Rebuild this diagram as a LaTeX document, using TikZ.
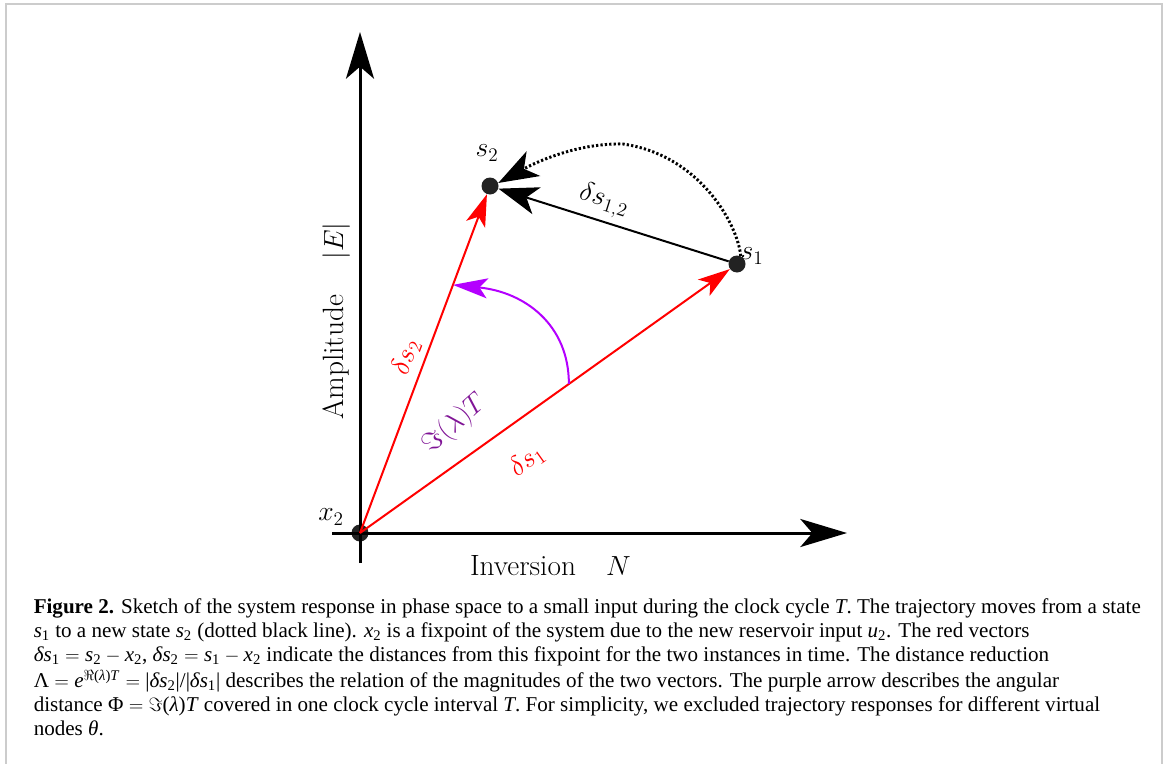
\documentclass[tikz,border=0pt]{standalone}
\usepackage{fontspec}
\newfontfamily\capfont{Liberation Serif}
\usetikzlibrary{arrows.meta,calc}
\definecolor{dotgray}{HTML}{222222}
\definecolor{arcviolet}{RGB}{180,0,255}
\definecolor{txtpurple}{RGB}{128,20,150}
\definecolor{framegray}{HTML}{CCCCCC}
\newcommand{\ci}[1]{\textit{#1}}
\newcommand{\csub}[1]{\textsubscript{#1}}
\begin{document}
\begin{tikzpicture}[x=0.75pt,y=-0.75pt,
  blackdot/.style={circle,fill=dotgray,inner sep=0pt,minimum size=12.75pt},
  axisarrow/.style={line width=2.25pt,-{Stealth[length=35pt,width=21pt,inset=9pt]}},
  redvec/.style={red,line width=1.5pt,-{Stealth[length=24pt,width=15pt,inset=6pt]}},
  blackvec/.style={black,line width=1.5pt,-{Stealth[length=30pt,width=21pt,inset=8pt]}},
  dotpath/.style={black,line width=2.2pt,dash pattern=on 1.7pt off 1.6pt,-{Stealth[length=30pt,width=21pt,inset=8pt]}},
  arcvec/.style={arcviolet,line width=1.5pt,-{Stealth[length=26pt,width=15pt,inset=6pt]}},
  lbl/.style={font=\fontsize{22}{26}\selectfont,inner sep=0pt},
  mlbl/.style={font=\fontsize{20.5}{24}\selectfont,inner sep=0pt},
  captxt/.style={font=\capfont\fontsize{15.8}{19}\selectfont,anchor=base west,inner sep=0pt},
]
\useasboundingbox (0,0) rectangle (1165,764);
\fill[white] (0,0) rectangle (1165,764);
\draw[framegray,line width=1.5pt] (5.5,764) -- (5.5,3.5) -- (1162,3.5) -- (1162,764);

% dots
\node[blackdot] (x2) at (360,533) {};
\node[blackdot] (s1) at (737,264) {};
\node[blackdot] (s2) at (490,186) {};

% axes
\coordinate (ybot) at (360,563);
\coordinate (ytop) at (360,32);
\coordinate (xleft) at (332,533);
\coordinate (xright) at (847,533);
\draw[axisarrow] (ybot) -- (ytop);
\draw[axisarrow] (xleft) -- (xright);

% red vectors
\draw[redvec] (x2.center) -- (s1);
\draw[redvec] (x2.center) -- (s2);

% black difference vector
\draw[blackvec] (s1) -- (s2);

% dotted trajectory
\draw[dotpath] (s1.65) .. controls (738,225) and (700,155) .. (623,144)
  .. controls (580,143) and (540,160) .. (s2.20);

% purple arc
\coordinate (pa) at ($(x2)!0.554!(s1)$);
\coordinate (pb) at ($(x2)!0.715!(s2)$);
\draw[arcvec] (pa) .. controls (569,325) and (525,292) .. (pb);

% labels
\node[mlbl] (lx2) at (331,517) {$x_2$};
\node[mlbl] (ls1) at (752,256) {$s_1$};
\node[mlbl] (ls2) at (487,153) {$s_2$};
\node[mlbl,rotate=-17.5] (ld12) at (604,201) {$\delta s_{1,2}$};
\node[mlbl,red,rotate=35.5] (lds1) at (527,461) {$\delta s_1$};
\node[mlbl,red,rotate=69.5] (lds2) at (406,357) {$\delta s_2$};
\node[mlbl,txtpurple,rotate=42] (lim) at (455,424) {$\Im(\lambda)T$};
\node[lbl,rotate=90,anchor=base] (lamp) at (343,357.5) {Amplitude};
\node[lbl,rotate=90,anchor=base] (lE) at (343,241) {$|E|$};
\node[lbl,anchor=base] (linv) at (523,575) {Inversion};
\node[lbl,anchor=base] (lN) at (618.5,575) {$N$};

% caption
\node[captxt] (c1) at (33.5,613) {{\bfseries Figure 2.} Sketch of the system response in phase space to a small input during the clock cycle \ci{T}. The trajectory moves from a state};
\node[captxt] (c2) at (33.5,637) {\ci{s}\csub{1} to a new state \ci{s}\csub{2} (dotted black line). \ci{x}\csub{2} is a fixpoint of the system due to the new reservoir input \ci{u}\csub{2}. The red vectors};
\node[captxt] (c3) at (33.5,661) {\ci{δs}\csub{1}${}={}$\ci{s}\csub{2}${}-{}$\ci{x}\csub{2}, \ci{δs}\csub{2}${}={}$\ci{s}\csub{1}${}-{}$\ci{x}\csub{2} indicate the distances from this fixpoint for the two instances in time. The distance reduction};
\node[captxt] (c4) at (33.5,687) {Λ${}={}$\ci{e}\textsuperscript{$\Re$(\ci{λ})\ci{T}}${}={}$|\ci{δs}\csub{2}|/|\ci{δs}\csub{1}| describes the relation of the magnitudes of the two vectors. The purple arrow describes the angular};
\node[captxt] (c5) at (33.5,711) {distance Φ${}={}$$\Im$(\ci{λ})\ci{T} covered in one clock cycle interval \ci{T}. For simplicity, we excluded trajectory responses for different virtual};
\node[captxt] (c6) at (33.5,735) {nodes \ci{θ}.};
\end{tikzpicture}
\end{document}
